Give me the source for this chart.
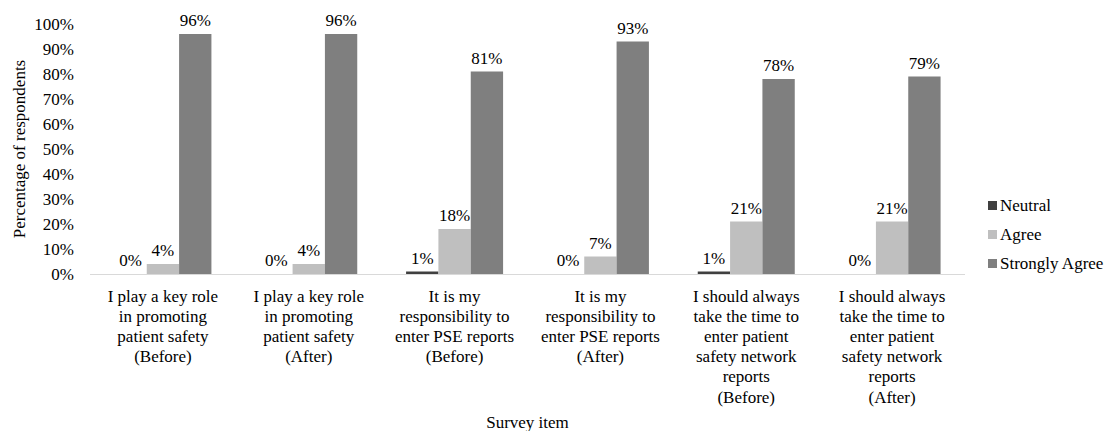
<!DOCTYPE html>
<html>
<head>
<meta charset="utf-8">
<script src="https://cdn.jsdelivr.net/npm/d3@7"></script>
<style>
  body { margin: 0; background: #fff; }
</style>
</head>
<body>
<div id="chart"></div>
<script>
// data
const items = [
    ['I play a key role', 'in promoting', 'patient safety', '(Before)'],
    ['I play a key role', 'in promoting', 'patient safety', '(After)'],
    ['It is my', 'responsibility to', 'enter PSE reports', '(Before)'],
    ['It is my', 'responsibility to', 'enter PSE reports', '(After)'],
    ['I should always', 'take the time to', 'enter patient', 'safety network', 'reports', '(Before)'],
    ['I should always', 'take the time to', 'enter patient', 'safety network', 'reports', '(After)'],
];
const seriesNames = ['Neutral', 'Agree', 'Strongly Agree'];
const neutral = [0, 0, 1, 0, 1, 0];
const agree = [4, 4, 18, 7, 21, 21];
const stronglyAgree = [96, 96, 81, 93, 78, 79];
const yTicks = [0, 10, 20, 30, 40, 50, 60, 70, 80, 90, 100];

const colors = ['#404040', '#bfbfbf', '#7f7f7f'];
const seriesValues = [neutral, agree, stronglyAgree];

const width = 1110;
const height = 431;
const plotLeft = 90;
const plotRight = 965;
const plotTop = 24;
const plotBottom = 274;
const font = 'Liberation Serif';

const svg = d3
    .select('#chart')
    .append('svg')
    .attr('width', width)
    .attr('height', height)
    .attr('font-family', font)
    .attr('font-size', 17);

const rows = items.map((lines, i) => ({
    key: i,
    lines: lines,
    values: seriesValues.map((s, j) => ({ series: j, value: s[i] })),
}));

const x = d3
    .scaleBand()
    .domain(rows.map((d) => d.key))
    .range([plotLeft, plotRight])
    .padding(0);

const groupWidth = 97;
const xSub = d3
    .scaleBand()
    .domain(d3.range(seriesNames.length))
    .range([(x.bandwidth() - groupWidth) / 2, (x.bandwidth() + groupWidth) / 2])
    .padding(0);

const y = d3
    .scaleLinear()
    .domain([0, 100])
    .range([plotBottom, plotTop]);

// y tick labels (no axis line)
svg.append('g')
    .selectAll('text')
    .data(yTicks)
    .enter()
    .append('text')
    .attr('font-family', font)
    .attr('x', 74)
    .attr('y', (d) => y(d) + 6)
    .attr('text-anchor', 'end')
    .text((d) => d + '%');

// y title
svg.append('text')
    .attr('font-family', font)
    .attr('transform', 'rotate(-90)')
    .attr('x', -(plotTop + plotBottom) / 2)
    .attr('y', 25)
    .attr('text-anchor', 'middle')
    .text('Percentage of respondents');

// bars
const groups = svg.append('g')
    .selectAll('g')
    .data(rows)
    .enter()
    .append('g')
    .attr('transform', (d) => `translate(${x(d.key)},0)`);

groups.selectAll('rect')
    .data((d) => d.values)
    .enter()
    .append('rect')
    .attr('x', (d) => xSub(d.series))
    .attr('y', (d) => y(d.value))
    .attr('width', xSub.bandwidth())
    .attr('height', (d) => y(0) - y(d.value))
    .attr('fill', (d) => colors[d.series]);

groups.selectAll('text.val')
    .data((d) => d.values)
    .enter()
    .append('text')
    .attr('class', 'val')
    .attr('font-family', font)
    .attr('x', (d) => xSub(d.series) + xSub.bandwidth() / 2)
    .attr('y', (d) => y(d.value) - 8)
    .attr('text-anchor', 'middle')
    .text((d) => d.value + '%');

// x baseline
svg.append('line')
    .attr('x1', plotLeft)
    .attr('x2', plotRight)
    .attr('y1', plotBottom + 0.5)
    .attr('y2', plotBottom + 0.5)
    .attr('stroke', '#d9d9d9')
    .attr('stroke-width', 1);

// x category labels
const xLabels = svg.append('g')
    .selectAll('text')
    .data(rows)
    .enter()
    .append('text')
    .attr('font-family', font)
    .attr('text-anchor', 'middle');

xLabels.selectAll('tspan')
    .data((d) => d.lines.map((l) => ({ line: l, key: d.key })))
    .enter()
    .append('tspan')
    .attr('x', (d) => x(d.key) + x.bandwidth() / 2)
    .attr('y', (d, i) => 302 + i * 20.1)
    .text((d) => d.line);

// x title
svg.append('text')
    .attr('font-family', font)
    .attr('x', (plotLeft + plotRight) / 2)
    .attr('y', 428)
    .attr('text-anchor', 'middle')
    .text('Survey item');

// legend
const legend = svg.append('g')
    .selectAll('g')
    .data(seriesNames)
    .enter()
    .append('g')
    .attr('transform', (d, i) => `translate(988,${205 + i * 29})`);

legend.append('rect')
    .attr('x', 0)
    .attr('y', -4)
    .attr('width', 9)
    .attr('height', 9)
    .attr('fill', (d, i) => colors[i]);

legend.append('text')
    .attr('font-family', font)
    .attr('x', 12)
    .attr('y', 6)
    .text((d) => d);
</script>
</body>
</html>
